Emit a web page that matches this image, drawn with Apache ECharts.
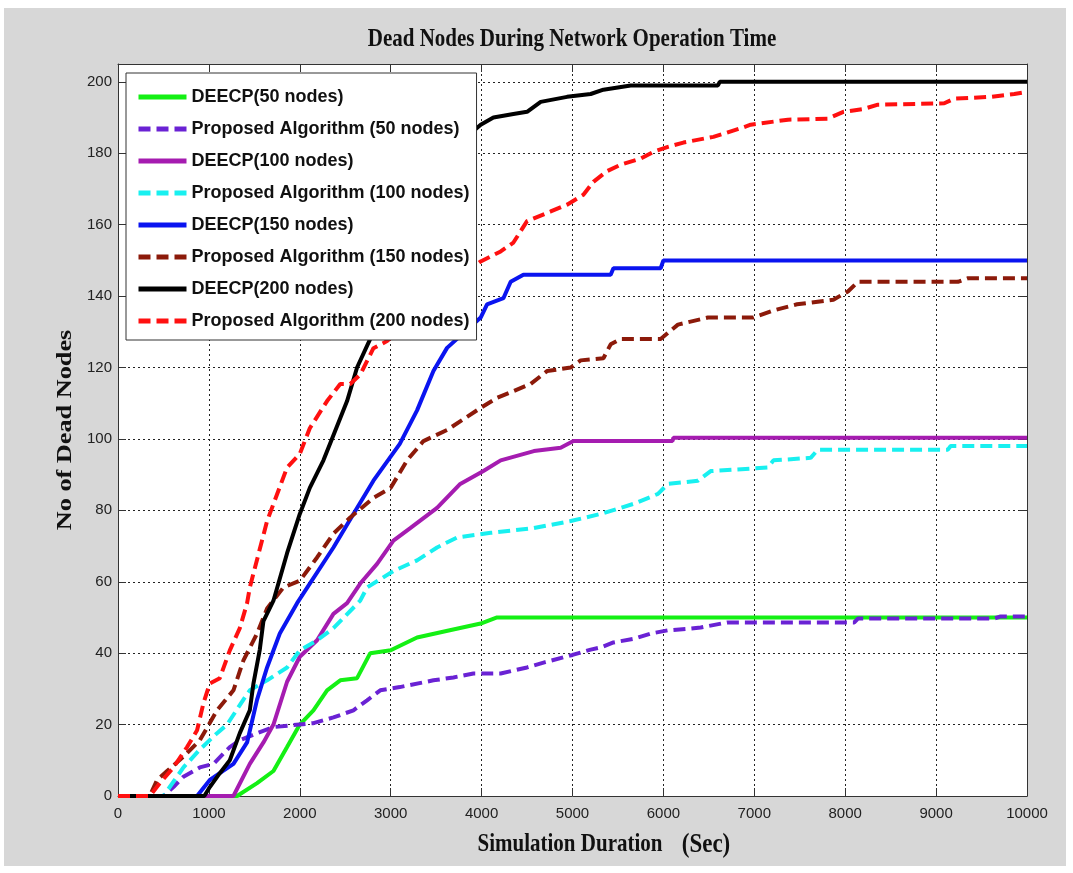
<!DOCTYPE html>
<html>
<head>
<meta charset="utf-8">
<script src="https://cdn.jsdelivr.net/npm/echarts@6/dist/echarts.min.js"></script>
<style>
  html, body { margin: 0; background: #fff; }
  #main { width: 1073px; height: 873px; }
</style>
</head>
<body>
<div id="main"></div>
<script>
// series names, in legend order
var names = [
  "DEECP(50 nodes)",
  "Proposed Algorithm (50 nodes)",
  "DEECP(100 nodes)",
  "Proposed Algorithm (100 nodes)",
  "DEECP(150 nodes)",
  "Proposed Algorithm (150 nodes)",
  "DEECP(200 nodes)",
  "Proposed Algorithm (200 nodes)"
];

// [time (sec), dead nodes]
var deecp50 = [[0,0],[1310,0],[1530,3.6],[1710,7],[1860,13.7],[2000,20],[2150,24],[2300,29.6],
  [2445,32.4],[2630,33],[2775,40],[3000,40.8],[3290,44.4],[3650,46.4],[3990,48.3],[4170,50],[10000,50]];

var prop50 = [[0,0],[500,0],[610,2.5],[720,5.4],[900,8],[1050,9],[1230,13.7],[1340,15.6],[1530,17.6],
  [1710,19.3],[2150,20.4],[2370,22],[2590,24],[2740,26.8],[2885,29.6],[3100,30.5],[3470,32.4],
  [3690,33.2],[3910,34.3],[4210,34.3],[4500,36],[4700,37.5],[5000,39.5],[5200,41],[5310,41.6],
  [5450,43],[5670,44],[5860,45.5],[6050,46.4],[6300,46.9],[6410,47.2],[6700,48.6],[8100,48.6],
  [8140,49.7],[9640,49.7],[9710,50.3],[10000,50.3]];

var deecp100 = [[0,0],[1270,0],[1450,9],[1600,15],[1710,20],[1860,32],[2000,39],[2190,43.6],[2370,51],
  [2520,54],[2665,59.5],[2850,65],[3030,71.5],[3215,75],[3510,80.7],[3765,87.4],[4020,91],[4210,94],
  [4575,96.6],[4870,97.5],[5010,99.4],[6100,99.4],[6110,100.3],[10000,100.3]];

var prop100 = [[0,0],[500,0],[720,8],[900,13],[1090,17.6],[1200,20],[1380,27],[1450,29.6],[1640,32.4],
  [1860,36],[2000,40.8],[2190,43.6],[2370,47],[2665,54.7],[2740,58.4],[3030,63],[3290,66],[3510,69.6],
  [3730,72.4],[4100,73.7],[4570,75],[4980,77],[5310,79],[5670,81.8],[5940,84.6],[6050,87.4],
  [6380,88.3],[6520,91],[7150,92],[7210,94],[7620,94.7],[7700,97],[9130,97],[9160,98],[10000,98]];

var deecp150 = [[0,0],[870,0],[1010,4.5],[1270,9],[1420,15],[1530,27],[1640,36],[1780,45.5],[1970,54],
  [2370,69.6],[2590,79],[2810,88.3],[3100,98.6],[3290,108],[3470,119],[3620,125.5],[3990,134],
  [4060,137.7],[4240,139.4],[4320,144],[4460,146],[5420,146],[5450,147.8],[5970,147.8],[6000,150],
  [10000,150]];

var prop150 = [[0,0],[350,0],[430,4.5],[540,7],[720,11],[900,15.6],[1090,24],[1270,29.6],[1380,38],
  [1530,45.5],[1640,52.5],[1820,58.4],[2000,60.3],[2190,66.8],[2370,73.5],[2555,78],[2810,83.5],
  [3000,86.3],[3180,94],[3360,99.4],[3620,102.5],[3990,108.7],[4170,111.5],[4350,113.4],[4540,115.4],
  [4720,119],[4980,120],[5090,122],[5340,122.6],[5420,126.5],[5530,128],[5970,128],[6160,132],
  [6490,134],[6990,134],[7210,136],[7470,137.7],[7870,139],[8030,141.3],[8140,144],[9240,144],
  [9350,145],[10000,145]];

var deecp200 = [[0,0],[950,0],[1010,2.5],[1120,6.4],[1230,10],[1340,17.6],[1450,24],[1490,31.5],
  [1560,41],[1600,49],[1710,54.7],[1860,68],[2000,79],[2110,86.3],[2260,94],[2370,101],[2520,110.6],
  [2630,120],[2775,128],[2900,135],[3100,150],[3300,163],[3500,174],[3700,181],[3900,186],[3990,188],
  [4130,190],[4350,191],[4500,191.6],[4650,194.4],[4940,195.8],[5200,196.6],[5340,197.8],[5640,199],
  [6600,199],[6620,200],[10000,200]];

var prop200 = [[0,0],[350,0],[460,3.6],[610,8],[760,13.7],[870,18.4],[940,26],[1010,31.5],[1120,33],
  [1230,40.8],[1340,47],[1420,54],[1450,58.4],[1640,77],[1860,92],[2000,95.8],[2110,103],[2300,110.6],
  [2445,115.4],[2555,115.4],[2665,118],[2810,125.4],[2960,127.4],[3200,133],[3500,140],[3800,146],
  [3990,149.7],[4210,152.5],[4350,155],[4500,161],[4760,163.7],[4940,165.6],[5120,168.4],[5230,172],
  [5380,175],[5530,176.8],[5750,178.5],[5890,180.4],[6050,181.8],[6220,183],[6550,184.6],[6850,187],
  [6960,188],[7370,189.4],[7810,189.7],[7980,191.6],[8200,192.4],[8360,193.6],[9090,194],[9200,195.3],
  [9600,195.8],[9860,196.6],[10000,197.2]];

var seriesData = [deecp50, prop50, deecp100, prop100, deecp150, prop150, deecp200, prop200];
var colors = ["#14f014", "#6a22d4", "#a51cb0", "#18f0f0", "#0a14f0", "#8c1a0a", "#000000", "#ff1010"];
var dashed = [false, true, false, true, false, true, false, true];

var chart = echarts.init(document.getElementById("main"));

var axisFont = { fontFamily: "Liberation Sans", fontSize: 15, color: "#222" };
var gridLine = { show: true, lineStyle: { color: "#222", width: 1, type: [2, 3] } };
var boxLine = { show: true, onZero: false, lineStyle: { color: "#333", width: 1 } };
var inTick = { show: true, inside: true, length: 8, lineStyle: { color: "#333" } };
var plain = function (v) { return String(v); };

var series = seriesData.map(function (d, i) {
  return {
    name: names[i],
    type: "line",
    data: d,
    symbol: "none",
    showSymbol: false,
    itemStyle: { color: colors[i] },
    lineStyle: {
      color: colors[i],
      width: 4,
      type: dashed[i] ? [12, 6] : "solid"
    },
    emphasis: { disabled: true }
  };
});

// serif labels look a bit stretched vertically in the source image
var serifText = function (text, x, y, size, extra) {
  return Object.assign({
    type: "text", x: x, y: y, scaleY: 1.15,
    style: { text: text, font: "bold " + size + "px 'Liberation Serif'", fill: "#111",
      textAlign: "center", textVerticalAlign: "middle" }
  }, extra || {});
};

var option = {
  backgroundColor: "#fff",
  animation: false,
  graphic: [
    { type: "rect", z: -100, shape: { x: 4, y: 8, width: 1062, height: 858 }, style: { fill: "#d7d7d7" } },
    serifText("Dead Nodes During Network Operation Time", 572, 40, 21),
    serifText("Simulation Duration", 570, 845, 21),
    serifText("(Sec)", 706, 845, 23),
    serifText("No of Dead Nodes", 66, 430, 21, { rotation: Math.PI / 2, scaleY: 1, scaleX: 1.25 })
  ],
  grid: { left: 118, right: 46, top: 64, bottom: 77, show: true, backgroundColor: "#fff", borderWidth: 0 },
  legend: {
    data: names,
    orient: "vertical",
    left: 126,
    top: 73,
    itemWidth: 48,
    itemHeight: 14,
    itemGap: 14,
    padding: [15, 7, 10, 10],
    backgroundColor: "#fff",
    borderColor: "#333",
    borderWidth: 1,
    itemStyle: { opacity: 0 },
    lineStyle: { width: 5 },
    textStyle: { fontFamily: "Liberation Sans", fontSize: 18, fontWeight: "bold", color: "#111" },
    selectedMode: false
  },
  xAxis: [
    {
      type: "value", min: 0, max: 10000, interval: 1000,
      axisLine: boxLine, axisTick: inTick, splitLine: gridLine,
      axisLabel: Object.assign({ margin: 10, formatter: plain }, axisFont)
    },
    {
      type: "value", position: "top", min: 0, max: 10000, interval: 1000,
      axisLine: boxLine, axisTick: inTick, splitLine: { show: false }, axisLabel: { show: false }
    }
  ],
  yAxis: [
    {
      type: "value", min: 0, max: 205, interval: 20,
      axisLine: boxLine, axisTick: inTick, splitLine: gridLine,
      axisLabel: Object.assign({ margin: 6, formatter: function (v) { return v % 20 === 0 ? String(v) : ""; } }, axisFont)
    },
    {
      type: "value", position: "right", min: 0, max: 205, interval: 20,
      axisLine: boxLine, axisTick: inTick, splitLine: { show: false }, axisLabel: { show: false }
    }
  ],
  series: series
};

chart.setOption(option);
</script>
</body>
</html>
